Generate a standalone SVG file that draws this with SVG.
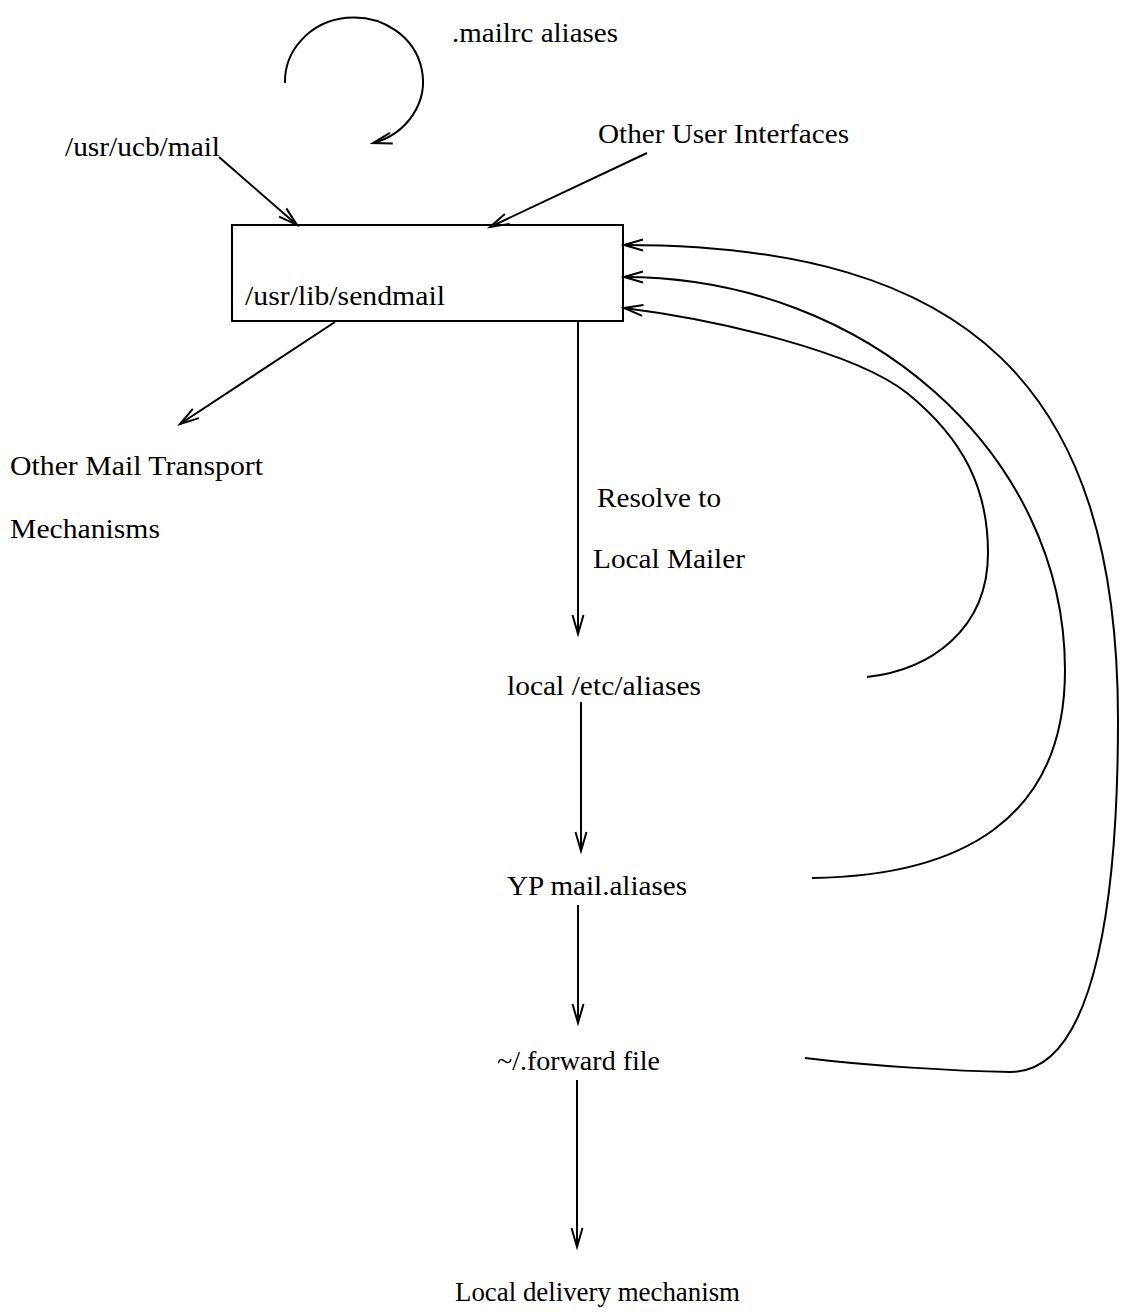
<svg xmlns="http://www.w3.org/2000/svg" width="1121" height="1315" viewBox="0 0 1121 1315">
<style>
  text { font-family: "Liberation Serif", "Times New Roman", serif; font-size: 28px; fill: #000; }
  .c { fill: none; stroke: #000; stroke-width: 2; }
</style>
<defs>
  <marker id="ah" markerUnits="userSpaceOnUse" markerWidth="30" markerHeight="20" viewBox="-22 -10 24 20" refX="0" refY="0" orient="auto">
    <path d="M-19,-5.5 L0,0 L-19,5.5" fill="none" stroke="#000" stroke-width="2"/>
  </marker>
</defs>
<rect width="1121" height="1315" fill="#fff"/>

<g id="mailrc">
  <text x="452" y="42" textLength="166" lengthAdjust="spacingAndGlyphs">.mailrc aliases</text>
</g>
<g id="ucbmail">
  <text x="65" y="156" textLength="155" lengthAdjust="spacingAndGlyphs">/usr/ucb/mail</text>
</g>
<g id="otherui">
  <text x="598" y="143" textLength="251" lengthAdjust="spacingAndGlyphs">Other User Interfaces</text>
</g>
<g id="sendmail">
  <rect x="232" y="225" width="391" height="96" fill="none" stroke="#000" stroke-width="2"/>
  <text x="245" y="305" textLength="200" lengthAdjust="spacingAndGlyphs">/usr/lib/sendmail</text>
</g>
<g id="othermta">
  <text x="10" y="475" textLength="253" lengthAdjust="spacingAndGlyphs">Other Mail Transport</text>
  <text x="10" y="538" textLength="150" lengthAdjust="spacingAndGlyphs">Mechanisms</text>
</g>
<g id="resolve">
  <text x="597" y="507" textLength="124" lengthAdjust="spacingAndGlyphs">Resolve to</text>
  <text x="593" y="568" textLength="152" lengthAdjust="spacingAndGlyphs">Local Mailer</text>
</g>
<g id="etcaliases">
  <text x="507" y="695" textLength="194" lengthAdjust="spacingAndGlyphs">local /etc/aliases</text>
</g>
<g id="ypaliases">
  <text x="507" y="895" textLength="180" lengthAdjust="spacingAndGlyphs">YP mail.aliases</text>
</g>
<g id="forward">
  <text x="497" y="1070" textLength="163" lengthAdjust="spacingAndGlyphs">~/.forward file</text>
</g>
<g id="localdelivery">
  <text x="455" y="1301" textLength="285" lengthAdjust="spacingAndGlyphs">Local delivery mechanism</text>
</g>

<g id="connectors">
  <path class="c" d="M285,83 A69,64 0 1 1 373,143" marker-end="url(#ah)"/>
  <path class="c" d="M219,157 L297,225" marker-end="url(#ah)"/>
  <path class="c" d="M647,153 L490,227" marker-end="url(#ah)"/>
  <path class="c" d="M335,322 L180,424" marker-end="url(#ah)"/>
  <path class="c" d="M578,321 L578,634" marker-end="url(#ah)"/>
  <path class="c" d="M581,702 L581,851" marker-end="url(#ah)"/>
  <path class="c" d="M578,905 L578,1023" marker-end="url(#ah)"/>
  <path class="c" d="M577,1080 L577,1247" marker-end="url(#ah)"/>
  <path class="c" d="M867,677 C930,670 988,630 988,553 C988,490 965,440 907,393 C855,352 720,320 624,308" marker-end="url(#ah)"/>
  <path class="c" d="M812,878 C960,876 1065,820 1065,670 C1065,454 866.5,277 624,277" marker-end="url(#ah)"/>
  <path class="c" d="M805,1058 C870,1066 955,1071 1010,1072 C1100,1073 1118,880 1118,720 C1118,387 970,245 624,245" marker-end="url(#ah)"/>
</g>
</svg>
